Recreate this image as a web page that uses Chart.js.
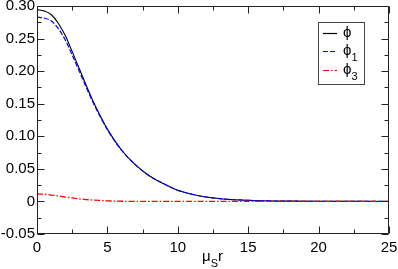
<!DOCTYPE html>
<html><head><meta charset="utf-8">
<script src="https://cdn.jsdelivr.net/npm/chart.js@4.4.0/dist/chart.umd.min.js"></script>
<style>html,body{margin:0;padding:0;background:#fff}#wrap{width:398px;height:269px}</style>
</head><body><div id="wrap"><canvas id="c" width="398" height="269"></canvas></div>
<script>
const rValues = [0,0.5,1,1.5,2,2.5,3,3.5,4,4.5,5,6,7,8,9,10,11,12,13,14,15,16,17,18,20,22,25];
const phi  = [0.2945,0.2925,0.287,0.274,0.255,0.230,0.204,0.178,0.153,0.131,0.111,0.079,0.056,0.039,0.027,0.017,0.011,0.0068,0.0042,0.0026,0.0016,0.001,0.0006,0.0004,0.00015,0.00005,0];
const phi1 = [0.283,0.2815,0.2772,0.2656,0.2482,0.2247,0.200,0.1751,0.151,0.1296,0.1101,0.0787,0.0559,0.039,0.027,0.017,0.011,0.0068,0.0042,0.0026,0.0016,0.001,0.0006,0.0004,0.00015,0.00005,0];
const phi3 = [0.0115,0.011,0.0098,0.0084,0.0068,0.0053,0.004,0.0029,0.002,0.0014,0.0009,0.0003,0.0001,0,0,0,0,0,0,0,0,0,0,0,0,0,0];
const xTicks = [0,5,10,15,20,25];
const yTicks = [-0.05,0,0.05,0.10,0.15,0.20,0.25,0.30];
const xMinor = [2.5,7.5,12.5,17.5,22.5];
const yMinor = [-0.025,0.025,0.075,0.125,0.175,0.225,0.275];
const legendNames = ['ϕ','ϕ','ϕ'];
const legendSubs = ['','1','3'];
const xTitleMain = 'μ', xTitleSub = 'S', xTitleEnd = 'r';

const FONT = '"Liberation Sans", Arial, "DejaVu Sans", sans-serif';
const colors = ['#000000','#0000ff','#ff0000'];
const dashes = [[],[5,2],[6,2,1.5,2]];
const widths = [1.1,1.2,1.3];
const orders = [2,1,0];
const series = [phi, phi1, phi3];

const framePlugin = {
  id: 'frame',
  afterDraw(chart) {
    const ctx = chart.ctx, a = chart.chartArea;
    const xs = chart.scales.x, ys = chart.scales.y;
    const L = Math.round(a.left)+0.5, R = Math.round(a.right)-0.5, T = Math.round(a.top)+0.5, B = Math.round(a.bottom)-0.5;
    ctx.save();
    ctx.strokeStyle = '#222'; ctx.lineWidth = 1;
    ctx.strokeRect(L, T, R-L, B-T);
    ctx.beginPath();
    const tx = (v, len) => { const p = Math.round(xs.getPixelForValue(v))+0.5; ctx.moveTo(p,B); ctx.lineTo(p,B-len); ctx.moveTo(p,T); ctx.lineTo(p,T+len); };
    const ty = (v, len) => { const p = Math.round(ys.getPixelForValue(v))+0.5; ctx.moveTo(L,p); ctx.lineTo(L+len,p); ctx.moveTo(R,p); ctx.lineTo(R-len,p); };
    xTicks.forEach(v=>tx(v,7)); xMinor.forEach(v=>tx(v,4));
    yTicks.forEach(v=>ty(v,7)); yMinor.forEach(v=>ty(v,4));
    ctx.stroke();
    // legend
    ctx.strokeStyle = '#444';
    ctx.strokeRect(318.5, 22.5, 46, 62);
    const rows = [33, 51, 70];
    for (let i=0;i<3;i++){
      ctx.beginPath(); ctx.strokeStyle = colors[i]; ctx.lineWidth = 1.2; ctx.setLineDash(dashes[i]);
      ctx.moveTo(323, rows[i]+0.5); ctx.lineTo(337, rows[i]+0.5); ctx.stroke(); ctx.setLineDash([]);
      ctx.fillStyle = '#000'; ctx.textBaseline = 'alphabetic'; ctx.textAlign = 'left';
      ctx.font = '15px ' + FONT;
      ctx.fillText(legendNames[i], 343, rows[i]+4);
      const w = ctx.measureText(legendNames[i]).width;
      if (legendSubs[i]) { ctx.font = '11px ' + FONT; ctx.fillText(legendSubs[i], 343+w, rows[i]+10); }
    }
    // x title
    ctx.fillStyle = '#000'; ctx.textAlign='left'; ctx.textBaseline='alphabetic';
    ctx.font = '15px ' + FONT;
    ctx.fillText(xTitleMain, 202, 261);
    let w1 = ctx.measureText(xTitleMain).width;
    ctx.font = '11px ' + FONT;
    ctx.fillText(xTitleSub, 202+w1, 267);
    let w2 = ctx.measureText(xTitleSub).width;
    ctx.font = '15px ' + FONT;
    ctx.fillText(xTitleEnd, 202+w1+w2, 261);
    ctx.restore();
  }
};

new Chart(document.getElementById('c'), {
  type: 'line',
  data: {
    datasets: series.map((s, i) => ({
      label: legendNames[i] + legendSubs[i],
      data: rValues.map((r, j) => ({x: r, y: s[j]})),
      borderColor: colors[i], borderWidth: widths[i], borderDash: dashes[i], order: orders[i],
      pointRadius: 0, fill: false, cubicInterpolationMode: 'monotone'
    }))
  },
  options: {
    responsive: false, animation: false, devicePixelRatio: 1,
    layout: { padding: { top: 6, right: 9, left: 0, bottom: 0 } },
    plugins: { legend: { display: false }, tooltip: { enabled: false } },
    scales: {
      x: {
        type: 'linear', min: 0, max: 25,
        grid: { display: false, drawTicks: false, tickLength: 0 }, border: { display: false },
        afterBuildTicks: s => { s.ticks = xTicks.map(v => ({value: v})); },
        afterFit: s => { s.height = 35; s.paddingLeft = 0; s.paddingRight = 0; },
        ticks: { color: '#000', font: { family: FONT, size: 15 }, padding: 5, maxRotation: 0, callback: v => String(v) }
      },
      y: {
        type: 'linear', min: -0.05, max: 0.30,
        grid: { display: false, drawTicks: false, tickLength: 0 }, border: { display: false },
        afterBuildTicks: s => { s.ticks = yTicks.map(v => ({value: v})); },
        afterFit: s => { s.width = 37; s.paddingTop = 0; s.paddingBottom = 0; },
        ticks: { color: '#000', font: { family: FONT, size: 15 }, padding: 2,
          callback: v => Math.abs(v) < 1e-9 ? '0' : v.toFixed(2) }
      }
    }
  },
  plugins: [framePlugin]
});
</script>
</body></html>
